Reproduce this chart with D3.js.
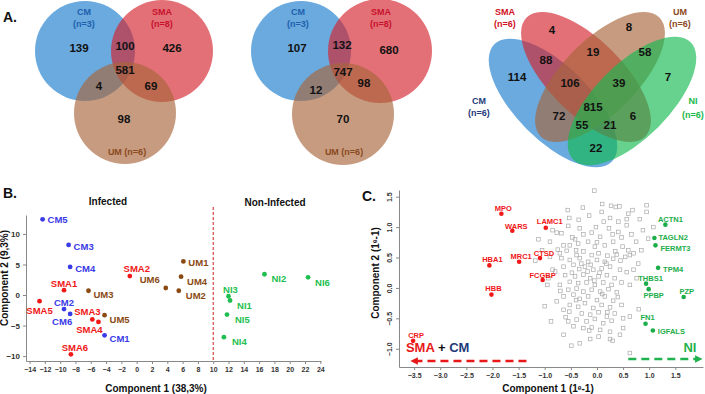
<!DOCTYPE html>
<html>
<head>
<meta charset="utf-8">
<style>
body { margin: 0; background: #fff; }
svg { font-family: "Liberation Sans", Arial, sans-serif; font-weight: bold; }
.venn { fill-opacity: 0.65; }
.axis path, .axis line { stroke: #888; }
.axis text { fill: #333; font-weight: bold; font-family: "Liberation Sans", Arial, sans-serif; }
</style>
</head>
<body>
<script src="https://cdnjs.cloudflare.com/ajax/libs/d3/7.8.5/d3.min.js"></script>
<script>
// ---------- data ----------
// venn counts: [region, count]
var vennA = [["CM",139],["CM+SMA",100],["SMA",426],["CM+SMA+UM",581],["CM+UM",4],["SMA+UM",69],["UM",98]];
var vennB = [["CM",107],["CM+SMA",132],["SMA",680],["CM+SMA+UM",747],["CM+UM",12],["SMA+UM",98],["UM",70]];
var vennC = [["SMA",4],["UM",8],["SMA+UM",19],["UM+NI",58],["CM+SMA",88],["CM",114],["CM+SMA+UM",106],
  ["SMA+UM+NI",39],["NI",7],["ALL",815],["CM+UM",72],["SMA+NI",6],["CM+UM+NI",55],["CM+SMA+NI",21],["CM+NI",22]];

// PCA samples: [name, PC1, PC2]
var cmSamples  = [["CM1",-4.2,-6.6],["CM2",-9.5,-2.3],["CM3",-8.9,8.2],["CM4",-8.7,4.6],["CM5",-12.3,12.4],["CM6",-8.7,-3.1]];
var smaSamples = [["SMA1",-9.5,0.8],["SMA2",-0.9,3.1],["SMA3",-5.8,-4.0],["SMA4",-5.0,-4.4],["SMA5",-12.7,-1.0],["SMA6",-8.6,-9.7]];
var umSamples  = [["UM1",6.1,5.5],["UM2",5.5,0.7],["UM3",-6.3,0.7],["UM4",5.8,3.0],["UM5",-4.2,-3.3],["UM6",3.8,1.15]];
var niSamples  = [["NI1",12.2,-0.9],["NI2",16.7,3.4],["NI3",12.0,-0.2],["NI4",11.4,-6.9],["NI5",11.8,-3.2],["NI6",22.4,2.9]];
var pcaTicksX = [-14,-12,-10,-8,-6,-4,-2,0,2,4,6,8,10,12,14,16,18,20,22,24];
var pcaTicksY = [-10,-5,0,5,10];

// PLS-DA loadings: [gene, comp1, comp2]
var smaCmGenes = [["MPO",-1.83,1.22],["WARS",-1.62,0.94],["HBA1",-2.06,0.37],["MRC1",-1.49,0.43],["HBB",-2.02,-0.11],
  ["CRP",-3.52,-0.87],["LAMC1",-0.98,0.99],["CTSD",-1.09,0.49],["FCGBP",-1.04,0.13]];
var niGenes = [["ACTN1",1.31,1.04],["TAGLN2",1.10,0.82],["FERMT3",1.12,0.70],["TPM4",1.17,0.33],["THBS1",0.94,0.07],
  ["PPBP",0.99,-0.02],["PZP",1.66,-0.15],["FN1",0.93,-0.59],["IGFALS",1.07,-0.70]];
var otherGenes = [
  [-0.56,1.28],[-0.27,1.32],[0.27,1.35],[0.36,1.33],[0.43,1.34],[0.95,1.36],[0.95,1.25],[-0.53,1.15],[-0.15,1.19],[0.09,1.25],
  [0.60,1.22],[0.57,1.13],[0.13,1.09],[0.25,1.15],[0.41,1.09],[-0.02,1.00],[-0.55,1.02],[-0.33,0.98],[0.23,0.98],[0.57,1.03],
  [1.08,1.00],[0.82,1.13],[-0.77,0.91],[-0.68,0.90],[-0.47,0.83],[-0.42,0.80],[-0.26,0.88],[-0.10,0.91],[0.06,0.84],[0.30,0.88],
  [0.41,0.92],[0.47,0.83],[0.66,0.88],[0.75,0.76],[0.98,0.81],[-0.90,0.76],[-0.64,0.70],[-0.52,0.70],[-0.36,0.73],[-0.17,0.76],
  [-0.04,0.68],[0.15,0.70],[0.31,0.76],[0.49,0.68],[0.60,0.62],[0.70,0.57],[-0.71,0.57],[-0.58,0.61],[-0.39,0.54],[-0.26,0.60],
  [-0.10,0.54],[0.03,0.57],[0.20,0.53],[0.38,0.55],[0.54,0.51],[-0.52,0.46],[-0.33,0.49],[-0.17,0.43],[0.00,0.46],[0.15,0.43],
  [0.31,0.48],[0.63,0.54],[0.79,0.40],[-0.68,0.49],[-0.90,0.51],[-0.64,0.35],[-0.45,0.38],[-0.34,0.31],[-0.23,0.35],[-0.07,0.30],
  [0.09,0.32],[0.25,0.35],[0.44,0.30],[0.57,0.26],[-0.61,0.21],[-0.42,0.19],[-0.26,0.22],[-0.13,0.16],[0.03,0.19],[0.19,0.21],
  [0.34,0.16],[-0.52,0.10],[-0.36,0.08],[-0.20,0.09],[-0.04,0.05],[0.12,0.09],[0.28,0.05],[0.47,0.09],[-0.55,-0.03],[-0.39,-0.01],
  [-0.26,-0.06],[-0.10,-0.03],[0.06,-0.06],[0.22,-0.02],[0.38,-0.07],[-0.71,0.05],[-0.80,0.27],[0.63,0.05],[0.76,0.16],[-0.93,0.16],
  [-0.64,-0.14],[-0.45,-0.11],[-0.33,-0.18],[-0.17,-0.14],[0.00,-0.20],[0.15,-0.14],[0.31,-0.21],[-0.52,-0.28],[-0.36,-0.31],[-0.23,-0.25],
  [-0.07,-0.33],[0.09,-0.28],[0.25,-0.32],[0.47,-0.28],[-0.64,-0.36],[-0.53,-0.39],[-0.29,-0.42],[-0.13,-0.44],[0.03,-0.40],[0.19,-0.47],
  [0.34,-0.42],[-0.39,-0.52],[-0.20,-0.55],[-0.04,-0.51],[0.12,-0.58],[0.28,-0.54],[0.63,-0.47],[-0.45,-0.63],[-0.26,-0.66],[-0.10,-0.65],
  [0.06,-0.69],[0.25,-0.72],[-0.55,-0.55],[0.50,-0.66],[-0.77,-0.22],[-0.13,-0.84],[0.25,-0.84],[0.30,-0.87],[-0.49,-0.95],[-0.33,-0.91],
  [0.63,-1.07],[0.03,-0.80],[0.44,-0.77],[-0.64,-0.77],[-1.12,0.80],[-0.05,1.60],[-0.85,0.30],[-0.75,0.63],[-0.30,0.40],[-0.12,0.38],
  [0.05,0.25],[0.18,0.40],[-0.48,0.25],[-0.18,0.27],[0.35,0.60],[-0.40,0.62],[-0.05,0.12],[0.40,-0.15],[-0.70,-0.05],[0.20,-0.40],
  [-0.40,-0.20],[0.10,-0.10],[-0.15,-0.70],[0.45,0.45],[0.70,0.30],[0.85,0.62],[-0.85,0.95],[0.50,-0.50],[-0.60,-0.48],[0.00,0.75],
  [-1.18,0.45],[-1.05,0.62],[-0.95,0.05],[-1.00,-0.30],[-0.88,-0.55],[-0.35,1.12],[0.10,1.38],[0.68,1.28],[0.88,0.95],[0.80,-0.35]
];
var plsTicksX = [-3.5,-3,-2.5,-2,-1.5,-1,-0.5,0,0.5,1,1.5];
var plsTicksY = [-1,-0.5,0,0.5,1,1.5];

// ---------- colours ----------
var col = { CM: "#3a3ae6", SMA: "#f01818", UM: "#8a4a14", NI: "#1fbf4f" };
var vcol = { CM: "#1a7ccc", SMA: "#d2232c", UM: "#a7653c", NI: "#14ba50" };

var svg = d3.select("body").append("svg").attr("width", 705).attr("height", 394);

// ---------- Venn diagrams ----------
function label(g, x, y, txt, size, color, anchor) {
  g.append("text").attr("x", x).attr("y", y).attr("dy", "0.35em")
    .attr("text-anchor", anchor || "middle").style("font-size", size + "px").attr("fill", color).text(txt);
}

var circlesA = [{cx: 85, cy: 51, r: 50, c: vcol.CM}, {cx: 162, cy: 51, r: 51, c: vcol.SMA}, {cx: 125, cy: 113, r: 51, c: vcol.UM}];
var circlesB = [{cx: 301, cy: 51, r: 50, c: vcol.CM}, {cx: 380, cy: 51, r: 52, c: vcol.SMA}, {cx: 343, cy: 114, r: 51, c: vcol.UM}];
var posA = {"CM":[79,48],"CM+SMA":[125,46],"SMA":[172,48],"CM+SMA+UM":[125,70],"CM+UM":[99,86],"SMA+UM":[151,86],"UM":[124,119]};
var posB = {"CM":[297,48],"CM+SMA":[342,45],"SMA":[389,50],"CM+SMA+UM":[343,72],"CM+UM":[316,90],"SMA+UM":[364,83],"UM":[343,119]};

function venn3(circles, counts, pos, lab) {
  var g = svg.append("g");
  g.selectAll("circle").data(circles).enter().append("circle").attr("class", "venn")
    .attr("cx", d => d.cx).attr("cy", d => d.cy).attr("r", d => d.r).attr("fill", d => d.c);
  counts.forEach(function(d) { label(g, pos[d[0]][0], pos[d[0]][1], d[1], 11.5, "#111"); });
  label(g, lab[0], 12, "CM", 9, "#1f5fae"); label(g, lab[0], 24, "(n=3)", 9, "#1f5fae");
  label(g, lab[1], 12, "SMA", 9, "#c8102e"); label(g, lab[1], 24, "(n=8)", 9, "#c8102e");
  label(g, lab[2], 152, "UM (n=6)", 9, "#8b4a1c");
}
venn3(circlesA, vennA, posA, [84, 162, 127]);
venn3(circlesB, vennB, posB, [298, 381, 344]);

var ellipses = [
  {cx: 553, cy: 103, rx: 83, ry: 37, a: 45, c: vcol.CM},
  {cx: 586, cy: 77, rx: 84, ry: 37, a: 45, c: vcol.SMA},
  {cx: 600, cy: 77, rx: 84, ry: 37, a: -45, c: vcol.UM},
  {cx: 632, cy: 101, rx: 83, ry: 37, a: -45, c: vcol.NI}
];
var posC = {"SMA":[552,30],"UM":[629,27],"SMA+UM":[593,52],"UM+NI":[645,52],"CM+SMA":[546,60],"CM":[517,77],
  "CM+SMA+UM":[570,83],"SMA+UM+NI":[619,83],"NI":[668,77],"ALL":[593,107],"CM+UM":[559,116],"SMA+NI":[633,116],
  "CM+UM+NI":[582,125],"CM+SMA+NI":[610,125],"CM+NI":[596,148]};
var gC = svg.append("g");
gC.selectAll("ellipse").data(ellipses).enter().append("ellipse").attr("class", "venn")
  .attr("rx", d => d.rx).attr("ry", d => d.ry).attr("fill", d => d.c)
  .attr("transform", d => "translate(" + d.cx + "," + d.cy + ") rotate(" + d.a + ")");
vennC.forEach(function(d) { label(gC, posC[d[0]][0], posC[d[0]][1], d[1], 11.5, "#111"); });
label(gC, 505, 12, "SMA", 9, "#d0101e"); label(gC, 505, 24, "(n=6)", 9, "#d0101e");
label(gC, 680, 12, "UM", 9, "#8b4a1c"); label(gC, 680, 24, "(n=6)", 9, "#8b4a1c");
label(gC, 479, 101, "CM", 9, "#1f3a7a"); label(gC, 479, 113, "(n=6)", 9, "#1f3a7a");
label(gC, 693, 101, "NI", 9, "#19b94a"); label(gC, 693, 115, "(n=6)", 9, "#19b94a");

label(svg, 3, 17, "A.", 14, "#111", "start");
label(svg, 3, 193, "B.", 14, "#111", "start");
label(svg, 362, 196, "C.", 14, "#111", "start");

// ---------- Panel B: PCA ----------
var xB = d3.scaleLinear().domain([-14.47, 24.09]).range([26, 321]);
var yB = d3.scaleLinear().domain([-10.8, 13.1]).range([361, 215]);

svg.append("g").attr("class", "axis").attr("transform", "translate(0,361)")
  .call(d3.axisBottom(xB).tickValues(pcaTicksX).tickSize(3).tickSizeOuter(0))
  .selectAll("text").style("font-size", "7px");
svg.append("g").attr("class", "axis").attr("transform", "translate(26,0)")
  .call(d3.axisLeft(yB).tickValues(pcaTicksY).tickSize(3).tickSizeOuter(0))
  .selectAll("text").style("font-size", "8px");

svg.append("line").attr("x1", xB(10)).attr("x2", xB(10)).attr("y1", 207).attr("y2", 361)
  .attr("stroke", "#d02020").attr("stroke-width", 1).attr("stroke-dasharray", "3,2");

label(svg, 108, 201, "Infected", 10, "#111");
label(svg, 275, 202, "Non-Infected", 10, "#111");
label(svg, 156, 388, "Component 1 (38,3%)", 10, "#111");
svg.append("text").attr("transform", "translate(8,278) rotate(-90)").attr("text-anchor", "middle")
  .style("font-size", "10px").attr("fill", "#111").text("Component 2 (9,3%)");

// label offsets [dx, dy, anchor]
var pcaLab = {
  CM1:[5,7,"start"], CM2:[0,-3,"middle"], CM3:[5,5,"start"], CM4:[5,5,"start"], CM5:[5,4,"start"], CM6:[-8,11.5,"middle"],
  SMA1:[0,-3,"middle"], SMA2:[7,-4,"middle"], SMA3:[-5,-4,"middle"], SMA4:[-9,11,"middle"], SMA5:[0,13,"middle"], SMA6:[4,-3.5,"middle"],
  UM1:[5,4.5,"start"], UM2:[7,8,"start"], UM3:[5,7.5,"start"], UM4:[6,8,"start"], UM5:[5,7.5,"start"], UM6:[-6,-5,"end"],
  NI1:[7,8,"start"], NI2:[7,8,"start"], NI3:[2,-3.5,"middle"], NI4:[8,7.5,"start"], NI5:[8,8,"start"], NI6:[7,8.5,"start"]
};
[[cmSamples, col.CM], [smaSamples, col.SMA], [umSamples, col.UM], [niSamples, col.NI]].forEach(function(s) {
  var g = svg.append("g");
  g.selectAll("circle").data(s[0]).enter().append("circle")
    .attr("cx", d => xB(d[1])).attr("cy", d => yB(d[2])).attr("r", 2.4).attr("fill", s[1]);
  g.selectAll("text").data(s[0]).enter().append("text")
    .attr("x", d => xB(d[1]) + pcaLab[d[0]][0]).attr("y", d => yB(d[2]) + pcaLab[d[0]][1])
    .attr("text-anchor", d => pcaLab[d[0]][2]).style("font-size", "9.5px").attr("fill", s[1]).text(d => d[0]);
});

// ---------- Panel C: PLS-DA loadings ----------
var xC = d3.scaleLinear().domain([-3.79, 2.03]).range([399, 703]);
var yC = d3.scaleLinear().domain([-1.30, 1.61]).range([367, 190]);

svg.append("g").attr("class", "axis").attr("transform", "translate(0,367)")
  .call(d3.axisBottom(xC).tickValues(plsTicksX).tickSize(3).tickSizeOuter(0))
  .selectAll("text").style("font-size", "7px");
var ay = svg.append("g").attr("class", "axis").attr("transform", "translate(399,0)")
  .call(d3.axisLeft(yC).tickValues(plsTicksY).tickSize(3).tickSizeOuter(0));
ay.selectAll(".tick text").style("font-size", "7px").attr("text-anchor", "middle")
  .attr("transform", "translate(-9,0) rotate(-90)").attr("x", 0).attr("y", 0).attr("dy", "0.35em");

label(svg, 548, 388, "Component 1 (1\u1D49-1)", 10, "#111");
svg.append("text").attr("transform", "translate(379,273) rotate(-90)").attr("text-anchor", "middle")
  .style("font-size", "10px").attr("fill", "#111").text("Component 2 (1\u1D49-1)");

svg.append("g").selectAll("rect").data(otherGenes).enter().append("rect")
  .attr("x", d => xC(d[0]) - 1.8).attr("y", d => yC(d[1]) - 1.8).attr("width", 3.6).attr("height", 3.6)
  .attr("fill", "none").attr("stroke", "#aaa").attr("stroke-width", 0.7);

var plsLab = {
  MPO:[2,-3,"middle"], WARS:[4,-1.5,"middle"], HBA1:[3,-3,"middle"], MRC1:[2,-2.5,"middle"], HBB:[2,-3.5,"middle"],
  CRP:[3,-3,"middle"], LAMC1:[4,-4,"middle"], CTSD:[4,-2,"middle"], FCGBP:[0,-2,"middle"],
  ACTN1:[5,-3,"middle"], TAGLN2:[4,2,"start"], FERMT3:[5,5.5,"start"], TPM4:[5,4,"start"], THBS1:[4.5,-3,"middle"],
  PPBP:[5,9,"middle"], PZP:[3,-3,"middle"], FN1:[2,-4,"middle"], IGFALS:[5,3,"start"]
};
[[smaCmGenes, "#f01818"], [niGenes, "#1cae4a"]].forEach(function(s) {
  var g = svg.append("g");
  g.selectAll("circle").data(s[0]).enter().append("circle")
    .attr("cx", d => xC(d[1])).attr("cy", d => yC(d[2])).attr("r", 2.3).attr("fill", s[1]);
  g.selectAll("text").data(s[0]).enter().append("text")
    .attr("x", d => xC(d[1]) + plsLab[d[0]][0]).attr("y", d => yC(d[2]) + plsLab[d[0]][1])
    .attr("text-anchor", d => plsLab[d[0]][2]).style("font-size", "7.5px").attr("fill", s[1]).text(d => d[0]);
});

// direction arrows
var defs = svg.append("defs");
[["arrR", "#e81818"], ["arrG", "#1fb24f"]].forEach(function(a) {
  defs.append("marker").attr("id", a[0]).attr("viewBox", "0 0 10 10").attr("refX", 5).attr("refY", 5)
    .attr("markerWidth", 3).attr("markerHeight", 3).attr("orient", "auto")
    .append("path").attr("d", "M0,0L10,5L0,10z").attr("fill", a[1]);
});
svg.append("line").attr("x1", xC(-1.35)).attr("x2", xC(-3.5)).attr("y1", yC(-1.2)).attr("y2", yC(-1.2))
  .attr("stroke", "#e81818").attr("stroke-width", 2.5).attr("stroke-dasharray", "8,5").attr("marker-end", "url(#arrR)");
svg.append("line").attr("x1", xC(0.6)).attr("x2", xC(1.95)).attr("y1", yC(-1.17)).attr("y2", yC(-1.17))
  .attr("stroke", "#1fb24f").attr("stroke-width", 2.5).attr("stroke-dasharray", "8,5").attr("marker-end", "url(#arrG)");
var t = svg.append("text").attr("x", xC(-3.05)).attr("y", yC(-1.06)).attr("text-anchor", "middle").style("font-size", "13px");
t.append("tspan").attr("fill", "#e81818").text("SMA");
t.append("tspan").attr("fill", "#111").text(" + ");
t.append("tspan").attr("fill", "#1f3a7a").text("CM");
svg.append("text").attr("x", xC(1.78)).attr("y", yC(-1.06)).attr("text-anchor", "middle")
  .style("font-size", "13px").attr("fill", "#1fb24f").text("NI");
</script>
</body>
</html>
